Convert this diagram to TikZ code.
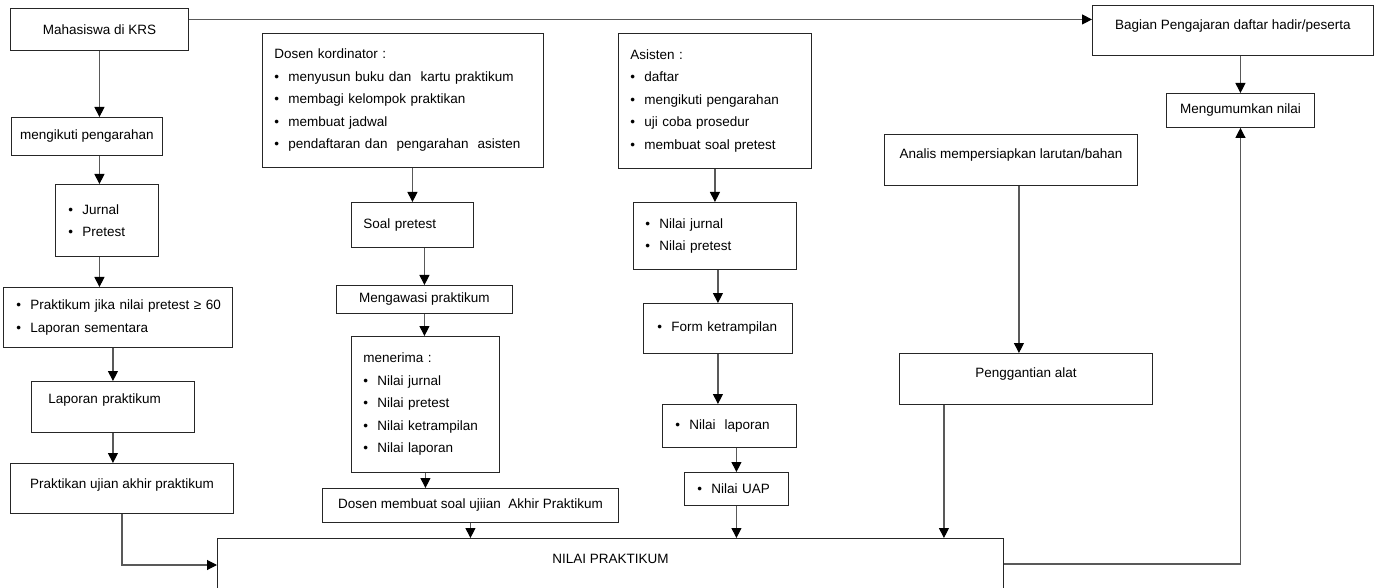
\documentclass[tikz,border=0pt]{standalone}
\usepackage{fontspec}
\setmainfont{Liberation Sans}
\usetikzlibrary{arrows.meta}

\newcommand{\bul}{\makebox[14pt][l]{\textbullet}}

\begin{document}
\begin{tikzpicture}[x=1pt,y=-1pt,
    font=\fontsize{13.5}{22.5}\selectfont,
    box/.style={draw=black!85, line width=0.9pt, anchor=north west, inner sep=0pt},
    lst/.style={box, align=left},
    arr/.style={draw=black!65, line width=1.1pt, -{Triangle[length=10pt,width=10pt,color=black]}}]
    \useasboundingbox (0,0) rectangle (1374,588);

    % Mahasiswa
    \node[box, minimum width=178pt, minimum height=42pt] (mhs) at (10,8) {Mahasiswa di KRS};
    \node[box, minimum width=151pt, minimum height=38pt] (arah) at (11,117) {mengikuti pengarahan};
    \node[lst, minimum width=103pt, minimum height=72pt, inner xsep=13pt, text width=77pt] (jurnal) at (55,184) {\bul Jurnal\\\bul Pretest};
    \node[lst, minimum width=229pt, minimum height=60pt, inner xsep=13pt, text width=203pt] (prak) at (3,287) {\bul\mbox{Praktikum jika nilai pretest ≥ 60}\\\bul Laporan sementara};
    \node[lst, minimum width=163pt, minimum height=51pt, inner xsep=17pt, text width=129pt, text depth=17pt] (lapprak) at (31,381) {Laporan praktikum};
    \node[box, minimum width=223pt, minimum height=50pt, text depth=10pt] (ujian) at (10,463) {Praktikan ujian akhir praktikum};

    % Dosen kordinator
    \node[lst, minimum width=281pt, minimum height=134pt, inner xsep=12pt, text width=257pt] (dosen) at (262,33) {Dosen kordinator :\\\bul menyusun buku dan\ \ kartu praktikum\\\bul membagi kelompok praktikan\\\bul membuat jadwal\\\bul pendaftaran dan\ \ pengarahan\ \ asisten};
    \node[lst, minimum width=122pt, minimum height=45pt, inner xsep=12pt, text width=98pt] (soal) at (351,202) {Soal pretest};
    \node[box, minimum width=176pt, minimum height=28pt] (awas) at (336,285) {Mengawasi praktikum};
    \node[lst, minimum width=148pt, minimum height=136pt, inner xsep=12pt, text width=124pt] (terima) at (351,336) {menerima :\\\bul Nilai jurnal\\\bul Nilai pretest\\\bul Nilai ketrampilan\\\bul Nilai laporan};
    \node[box, minimum width=296pt, minimum height=34pt] (soaluap) at (322,488) {Dosen membuat soal ujiian\ \ Akhir Praktikum};

    % Asisten
    \node[lst, minimum width=193pt, minimum height=135pt, inner xsep=12pt, text width=169pt] (asisten) at (618,33) {Asisten :\\\bul daftar\\\bul mengikuti pengarahan\\\bul uji coba prosedur\\\bul membuat soal pretest};
    \node[lst, minimum width=163pt, minimum height=67pt, inner xsep=12pt, text width=139pt] (njurnal) at (633,202) {\bul Nilai jurnal\\\bul Nilai pretest};
    \node[lst, minimum width=149pt, minimum height=50pt, inner xsep=14pt, text width=121pt] (form) at (643,303) {\bul Form ketrampilan};
    \node[lst, minimum width=134pt, minimum height=43pt, inner xsep=13pt, text width=108pt] (nlap) at (662,404) {\bul Nilai\ \ laporan};
    \node[lst, minimum width=104pt, minimum height=33pt, inner xsep=13pt, text width=78pt] (uap) at (684,472) {\bul Nilai UAP};

    % Analis dan bagian pengajaran
    \node[box, minimum width=253pt, minimum height=51pt, text depth=13pt] (analis) at (884,134) {Analis mempersiapkan larutan/bahan};
    \node[box, minimum width=253pt, minimum height=51pt, text depth=13pt] (ganti) at (899,353) {Penggantian alat};
    \node[box, minimum width=281pt, minimum height=50pt, text depth=12pt] (bagian) at (1092,5) {Bagian Pengajaran daftar hadir/peserta};
    \node[box, minimum width=148pt, minimum height=34pt] (umum) at (1166,93) {Mengumumkan nilai};

    % Nilai praktikum
    \node[box, minimum width=786pt, minimum height=100pt, text depth=60pt] (nilai) at (217,538) {NILAI PRAKTIKUM};

    % Arrows
    \draw[arr] ([yshift=10pt]mhs.east) -- ([yshift=10pt]mhs.east -| bagian.west);
    \draw[arr] (mhs.south) -- (mhs.south |- arah.north);
    \draw[arr] (arah.south -| mhs.south) -- (jurnal.north -| mhs.south);
    \draw[arr] (jurnal.south -| mhs.south) -- (prak.north -| mhs.south);
    \draw[arr] (prak.south -| lapprak.north) -- (lapprak.north);
    \draw[arr] (lapprak.south) -- (lapprak.south |- ujian.north);
    \draw[arr] (ujian.south) |- ([yshift=-27pt]nilai.north west);

    \draw[arr] (dosen.south -| soal.north) -- (soal.north);
    \draw[arr] (soal.south -| awas.north) -- (awas.north);
    \draw[arr] (awas.south) -- (awas.south |- terima.north);
    \draw[arr] (terima.south) -- (terima.south |- soaluap.north);
    \draw[arr] (soaluap.south) -- (soaluap.south |- nilai.north);

    \draw[arr] (asisten.south) -- (asisten.south |- njurnal.north);
    \draw[arr] (njurnal.south -| form.north) -- (form.north);
    \draw[arr] (form.south) -- (form.south |- nlap.north);
    \draw[arr] (nlap.south -| uap.north) -- (uap.north);
    \draw[arr] (uap.south) -- (uap.south |- nilai.north);

    \draw[arr] ([xshift=8pt]analis.south) -- ([xshift=8pt]analis.south |- ganti.north);
    \draw[arr] ([xshift=-82pt]ganti.south) -- ([xshift=-82pt]ganti.south |- nilai.north);
    \draw[arr] (umum.north |- bagian.south) -- (umum.north);
    \draw[arr] ([yshift=-26pt]nilai.north east) -| (umum.south);
\end{tikzpicture}
\end{document}
